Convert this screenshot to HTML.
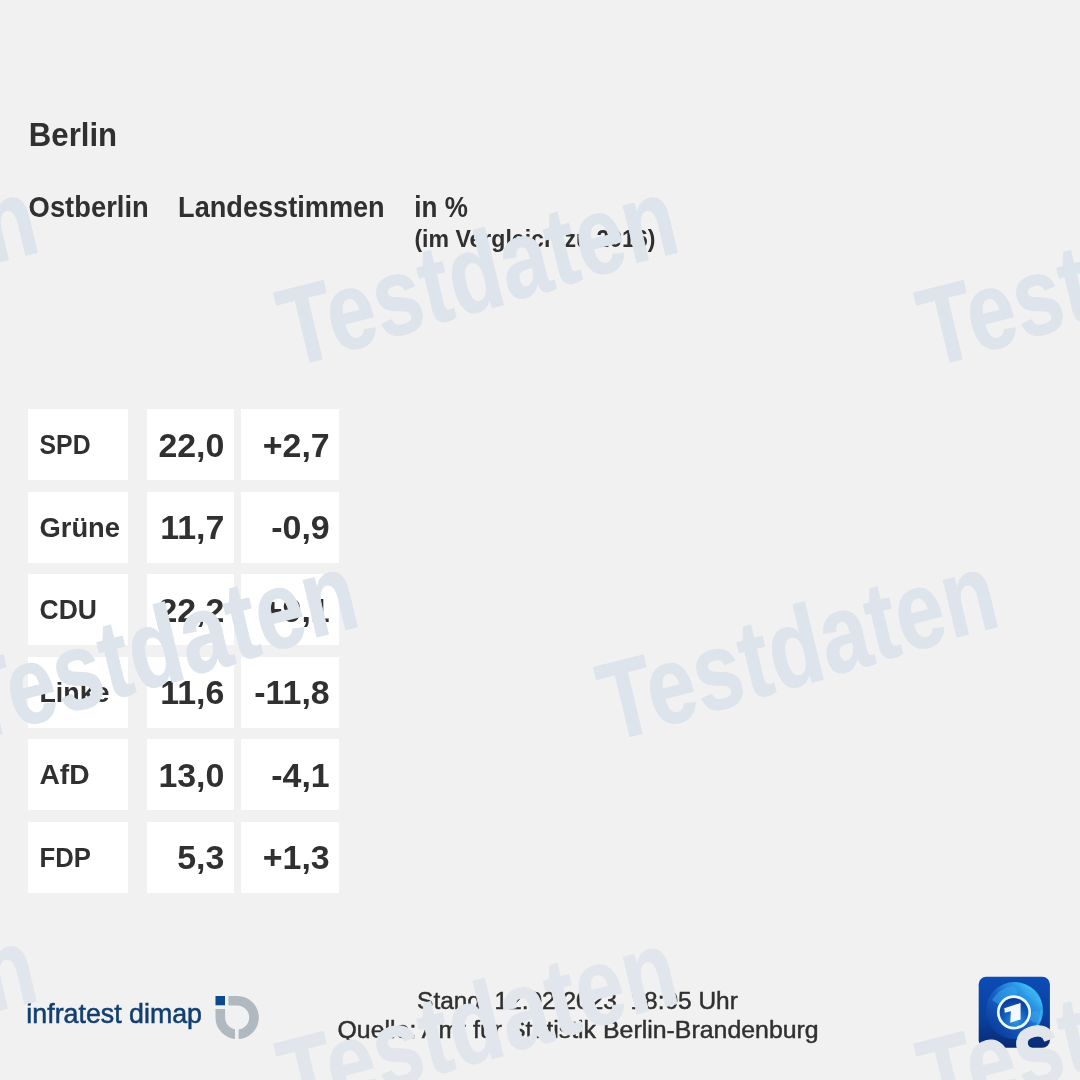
<!DOCTYPE html>
<html><head><meta charset="utf-8"><style>
html,body{margin:0;padding:0;}
body{width:1080px;height:1080px;overflow:hidden;background:#f1f1f1;position:relative;font-family:"Liberation Sans",sans-serif;}
.c{position:absolute;background:#ffffff;}
svg{position:absolute;left:0;top:0;will-change:transform;}
text{font-family:"Liberation Sans",sans-serif;}
</style></head><body>
<div class="c" style="left:28px;top:409.0px;width:100px;height:71px"></div>
<div class="c" style="left:147px;top:409.0px;width:87px;height:71px"></div>
<div class="c" style="left:241px;top:409.0px;width:98px;height:71px"></div>
<div class="c" style="left:28px;top:491.5px;width:100px;height:71px"></div>
<div class="c" style="left:147px;top:491.5px;width:87px;height:71px"></div>
<div class="c" style="left:241px;top:491.5px;width:98px;height:71px"></div>
<div class="c" style="left:28px;top:574.0px;width:100px;height:71px"></div>
<div class="c" style="left:147px;top:574.0px;width:87px;height:71px"></div>
<div class="c" style="left:241px;top:574.0px;width:98px;height:71px"></div>
<div class="c" style="left:28px;top:656.5px;width:100px;height:71px"></div>
<div class="c" style="left:147px;top:656.5px;width:87px;height:71px"></div>
<div class="c" style="left:241px;top:656.5px;width:98px;height:71px"></div>
<div class="c" style="left:28px;top:739.0px;width:100px;height:71px"></div>
<div class="c" style="left:147px;top:739.0px;width:87px;height:71px"></div>
<div class="c" style="left:241px;top:739.0px;width:98px;height:71px"></div>
<div class="c" style="left:28px;top:821.5px;width:100px;height:71px"></div>
<div class="c" style="left:147px;top:821.5px;width:87px;height:71px"></div>
<div class="c" style="left:241px;top:821.5px;width:98px;height:71px"></div>
<svg width="1080" height="1080" viewBox="0 0 1080 1080">
<text transform="translate(28.80 146.00) scale(0.9250 1)" font-size="33.7" font-weight="bold" fill="#303030" text-anchor="start">Berlin</text>
<text transform="translate(28.60 216.80) scale(0.9570 1)" font-size="28.6" font-weight="bold" fill="#303030" text-anchor="start">Ostberlin</text>
<text transform="translate(178.10 216.80) scale(0.9490 1)" font-size="28.6" font-weight="bold" fill="#303030" text-anchor="start">Landesstimmen</text>
<text transform="translate(414.30 216.80) scale(0.9100 1)" font-size="28.6" font-weight="bold" fill="#303030" text-anchor="start">in %</text>
<text transform="translate(414.40 247.20) scale(0.9950 1)" font-size="23.2" font-weight="bold" fill="#303030" text-anchor="start">(im Vergleich zu 2016)</text>
<text transform="translate(39.56 454.30) scale(0.8800 1)" font-size="28.2" font-weight="bold" fill="#303030" text-anchor="start">SPD</text>
<text transform="translate(224.36 456.80) scale(1.0400 1)" font-size="32.6" font-weight="bold" fill="#303030" text-anchor="end">22,0</text>
<text transform="translate(329.66 456.80) scale(1.0400 1)" font-size="32.6" font-weight="bold" fill="#303030" text-anchor="end">+2,7</text>
<text transform="translate(39.48 536.80) scale(0.9700 1)" font-size="28.2" font-weight="bold" fill="#303030" text-anchor="start">Grüne</text>
<text transform="translate(224.36 539.30) scale(1.0400 1)" font-size="32.6" font-weight="bold" fill="#303030" text-anchor="end">11,7</text>
<text transform="translate(329.66 539.30) scale(1.0400 1)" font-size="32.6" font-weight="bold" fill="#303030" text-anchor="end">-0,9</text>
<text transform="translate(39.50 619.30) scale(0.9400 1)" font-size="28.2" font-weight="bold" fill="#303030" text-anchor="start">CDU</text>
<text transform="translate(224.36 621.80) scale(1.0400 1)" font-size="32.6" font-weight="bold" fill="#303030" text-anchor="end">22,2</text>
<text transform="translate(329.66 621.80) scale(1.0400 1)" font-size="32.6" font-weight="bold" fill="#303030" text-anchor="end">+9,1</text>
<text transform="translate(39.50 701.80) scale(0.9500 1)" font-size="28.2" font-weight="bold" fill="#303030" text-anchor="start">Linke</text>
<text transform="translate(224.36 704.30) scale(1.0400 1)" font-size="32.6" font-weight="bold" fill="#303030" text-anchor="end">11,6</text>
<text transform="translate(329.66 704.30) scale(1.0400 1)" font-size="32.6" font-weight="bold" fill="#303030" text-anchor="end">-11,8</text>
<text transform="translate(39.45 784.30) scale(1.0000 1)" font-size="28.2" font-weight="bold" fill="#303030" text-anchor="start">AfD</text>
<text transform="translate(224.36 786.80) scale(1.0400 1)" font-size="32.6" font-weight="bold" fill="#303030" text-anchor="end">13,0</text>
<text transform="translate(329.66 786.80) scale(1.0400 1)" font-size="32.6" font-weight="bold" fill="#303030" text-anchor="end">-4,1</text>
<text transform="translate(39.53 866.80) scale(0.9100 1)" font-size="28.2" font-weight="bold" fill="#303030" text-anchor="start">FDP</text>
<text transform="translate(224.36 869.30) scale(1.0400 1)" font-size="32.6" font-weight="bold" fill="#303030" text-anchor="end">5,3</text>
<text transform="translate(329.66 869.30) scale(1.0400 1)" font-size="32.6" font-weight="bold" fill="#303030" text-anchor="end">+1,3</text>
<text transform="translate(26.37 1022.90) scale(0.9400 1)" font-size="28.5" font-weight="normal" fill="#123f70" text-anchor="start" stroke="#123f70" stroke-width="0.55">infratest dimap</text>
<text transform="translate(417.08 1008.50) scale(1.0190 1)" font-size="24" font-weight="normal" fill="#303030" text-anchor="start" stroke="#303030" stroke-width="0.45">Stand: 12.02.2023, 18:05 Uhr</text>
<text transform="translate(337.51 1038.30) scale(1.0370 1)" font-size="24" font-weight="normal" fill="#303030" text-anchor="start" stroke="#303030" stroke-width="0.45">Quelle: Amt für Statistik Berlin-Brandenburg</text>
<rect x="215.5" y="996" width="9.5" height="9.3" fill="#0d4a8c"/>
<path d="M228.5 1000.7 H237.2 A16.8 16.8 0 0 1 254 1017.5 A16.8 16.8 0 0 1 237.2 1034.3 A16.8 16.8 0 0 1 220.3 1017.5 V1009" fill="none" stroke="#b0b8c0" stroke-width="9.6"/>
<rect x="235" y="1024" width="3.6" height="16" fill="#f1f1f1"/>
<defs>
<linearGradient id="tsbg" x1="0" y1="0" x2="0" y2="1"><stop offset="0" stop-color="#0c4cb6"/><stop offset="0.6" stop-color="#0a3f9e"/><stop offset="1" stop-color="#0a2a72"/></linearGradient>
<linearGradient id="glb" x1="0.1" y1="0.9" x2="0.85" y2="0.15"><stop offset="0" stop-color="#0b3a98"/><stop offset="0.5" stop-color="#1760c4"/><stop offset="0.85" stop-color="#2c9ce8"/><stop offset="1" stop-color="#45c4f4"/></linearGradient>
<radialGradient id="inr" cx="0.55" cy="0.8" r="0.8"><stop offset="0" stop-color="#2a98e6"/><stop offset="0.55" stop-color="#1257b8"/><stop offset="1" stop-color="#0c3690"/></radialGradient>
<clipPath id="glc"><circle cx="1014.5" cy="1010.5" r="28.5"/></clipPath>
</defs>
<rect x="978.7" y="976.8" width="71.2" height="71" rx="7.5" fill="url(#tsbg)"/>
<circle cx="1014.5" cy="1010.5" r="28.5" fill="url(#glb)"/>
<g clip-path="url(#glc)" fill="#3aa8ec" opacity="0.55">
<path d="M992 1000 Q1000 988 1012 986 Q1020 990 1016 995 Q1006 996 998 1004 Z"/>
<path d="M1022 990 Q1032 986 1040 996 Q1036 1000 1030 998 Z"/>
<path d="M1032 1012 Q1040 1008 1042 1020 Q1036 1026 1030 1020 Z"/>
</g>
<circle cx="1014.5" cy="1010.5" r="27" fill="none" stroke="#4cc8f6" stroke-width="2.5" opacity="0.45" stroke-dasharray="60 200" stroke-dashoffset="30"/>
<circle cx="1014" cy="1012.4" r="15.7" fill="url(#inr)" stroke="#e9fbff" stroke-width="2.7"/>
<path d="M1004.3 1008.3 L1020.6 1002.9 L1020.6 1019.4 L1010.2 1022.7 L1010.9 1011.3 L1004.8 1012.7 Z" fill="#f2f9ff"/>
<text transform="matrix(0.8340 -0.2518 0.2847 1.0625 -349.80 367.00)" font-size="100" font-weight="bold" fill="#dde4ec" stroke="#dde4ec" stroke-width="1.0" stroke-linejoin="round" letter-spacing="0.6" rotate="2">Testdaten</text>
<text transform="matrix(0.8340 -0.2518 0.2847 1.0625 290.20 367.00)" font-size="100" font-weight="bold" fill="#dde4ec" stroke="#dde4ec" stroke-width="1.0" stroke-linejoin="round" letter-spacing="0.6" rotate="2">Testdaten</text>
<text transform="matrix(0.8340 -0.2518 0.2847 1.0625 930.20 367.00)" font-size="100" font-weight="bold" fill="#dde4ec" stroke="#dde4ec" stroke-width="1.0" stroke-linejoin="round" letter-spacing="0.6" rotate="2">Testdaten</text>
<text transform="matrix(0.8340 -0.2518 0.2847 1.0625 -29.80 741.50)" font-size="100" font-weight="bold" fill="#dde4ec" stroke="#dde4ec" stroke-width="1.0" stroke-linejoin="round" letter-spacing="0.6" rotate="2">Testdaten</text>
<text transform="matrix(0.8340 -0.2518 0.2847 1.0625 610.20 741.50)" font-size="100" font-weight="bold" fill="#dde4ec" stroke="#dde4ec" stroke-width="1.0" stroke-linejoin="round" letter-spacing="0.6" rotate="2">Testdaten</text>
<text transform="matrix(0.8340 -0.2518 0.2847 1.0625 -350.80 1115.60)" font-size="100" font-weight="bold" fill="#e1e6ed" stroke="#e1e6ed" stroke-width="1.0" stroke-linejoin="round" letter-spacing="0.6" rotate="2">Testdaten</text>
<text transform="matrix(0.8340 -0.2518 0.2847 1.0625 290.20 1118.10)" font-size="100" font-weight="bold" fill="#e1e6ed" stroke="#e1e6ed" stroke-width="1.0" stroke-linejoin="round" letter-spacing="0.6" rotate="2">Testdaten</text>
<text transform="matrix(0.8340 -0.2518 0.2847 1.0625 930.20 1118.10)" font-size="100" font-weight="bold" fill="#e1e6ed" stroke="#e1e6ed" stroke-width="1.0" stroke-linejoin="round" letter-spacing="0.6" rotate="2">Testdaten</text>
</svg>
</body></html>
